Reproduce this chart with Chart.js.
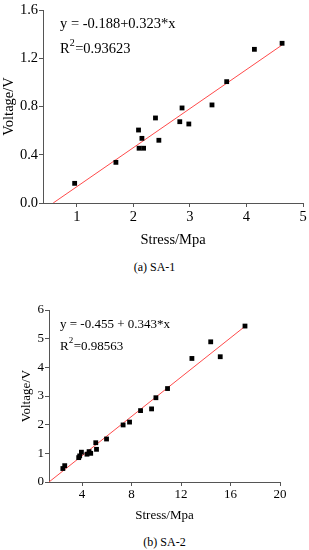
<!DOCTYPE html>
<html>
<head>
<meta charset="utf-8">
<script src="https://cdn.jsdelivr.net/npm/chart.js@4.4.1/dist/chart.umd.min.js"></script>
<style>
  html, body { margin:0; padding:0; background:#fff; width:309px; height:550px; overflow:hidden; }
  .box { position:absolute; left:0; width:309px; }
  .cap { position:absolute; width:309px; font-family:'Liberation Serif', serif; font-size:12px; color:#000; text-align:center; }
</style>
</head>
<body>
<div class="box" style="top:0;height:250px;"><canvas id="c1" width="309" height="250"></canvas></div>
<div class="cap" style="top:260px;left:0;width:309px;">(a) SA-1</div>
<div class="box" style="top:270px;height:255px;"><canvas id="c2" width="309" height="255"></canvas></div>
<div class="cap" style="top:535px;left:10px;width:309px;">(b) SA-2</div>
<script>
// ---- Data: chart (a) SA-1 ----
const stressA = [0.96, 1.69, 2.09, 2.10, 2.15, 2.18, 2.39, 2.45, 2.82, 2.86, 2.98, 3.39, 3.65, 4.14, 4.63];
const voltA   = [0.163, 0.337, 0.605, 0.454, 0.536, 0.454, 0.705, 0.52, 0.674, 0.788, 0.655, 0.813, 1.006, 1.274, 1.324];
const fitXA = [0.58, 4.63];
const fitYA = [0.0, 1.31];
const xTicksA = [1, 2, 3, 4, 5];
const yTicksA = [0.0, 0.4, 0.8, 1.2, 1.6];
const eqA = 'y = -0.188+0.323*x';
const r2A = '=0.93623';

// ---- Data: chart (b) SA-2 ----
const stressB = [2.45, 2.6, 3.73, 3.81, 3.95, 4.4, 4.57, 4.70, 5.11, 5.17, 5.98, 7.32, 7.84, 8.73, 9.62, 9.97, 10.91, 12.88, 14.4, 15.17, 17.17];
const voltB   = [0.47, 0.57, 0.85, 0.91, 1.04, 0.97, 1.06, 1.00, 1.37, 1.14, 1.50, 1.99, 2.09, 2.49, 2.55, 2.94, 3.26, 4.31, 4.89, 4.37, 5.44];
const fitXB = [1.33, 17.2];
const fitYB = [0.0, 5.44];
const xTicksB = [4, 8, 12, 16, 20];
const yTicksB = [0, 1, 2, 3, 4, 5, 6];
const eqB = 'y = -0.455 + 0.343*x';
const r2B = '=0.98563';

const FONT = "'Liberation Serif', 'Times New Roman', serif";
const AXIS = '#555';

function pts(xs, ys) { return xs.map((x, i) => ({x, y: ys[i]})); }

function eqPlugin(eq, r2, dx, dy1, dy2, fs) {
  return {
    id: 'eq',
    afterDraw(chart) {
      const ctx = chart.ctx, a = chart.chartArea;
      ctx.save();
      ctx.fillStyle = '#000';
      ctx.textBaseline = 'middle';
      ctx.textAlign = 'left';
      ctx.font = fs + 'px ' + FONT;
      const x0 = a.left + dx;
      ctx.fillText(eq, x0, a.top + dy1);
      ctx.fillText('R', x0, a.top + dy2);
      const wR = ctx.measureText('R').width;
      ctx.font = Math.round(fs * 0.72) + 'px ' + FONT;
      ctx.fillText('2', x0 + wR, a.top + dy2 - 6);
      const w2 = ctx.measureText('2').width;
      ctx.font = fs + 'px ' + FONT;
      ctx.fillText(r2, x0 + wR + w2 + 0.5, a.top + dy2);
      ctx.restore();
    }
  };
}

function makeChart(id, cfg) {
  const axisCommon = (ticks, fmt, extra) => Object.assign({
    type: 'linear',
    border: { display: true, color: AXIS, width: 1 },
    grid: { display: true, drawOnChartArea: false, drawTicks: true, tickLength: 4, color: AXIS, tickColor: AXIS },
    ticks: { color: '#000', font: { family: FONT, size: cfg.fs }, padding: 1, maxRotation: 0, autoSkip: false, callback: fmt },
    afterBuildTicks: s => { s.ticks = ticks.map(v => ({ value: v })); }
  }, extra);
  return new Chart(document.getElementById(id), {
    type: 'scatter',
    data: {
      datasets: [
        { data: pts(cfg.xs, cfg.ys), pointStyle: 'rect', pointRadius: 3.4, backgroundColor: '#000', borderColor: '#000', borderWidth: 0, showLine: false, order: 1 },
        { data: pts(cfg.fx, cfg.fy), showLine: true, borderColor: '#ff4a4a', borderWidth: 1, pointRadius: 0, fill: false, order: 2 }
      ]
    },
    options: {
      responsive: false, animation: false,
      layout: { padding: cfg.pad },
      plugins: { legend: { display: false }, tooltip: { enabled: false } },
      scales: {
        x: axisCommon(cfg.xTicks, v => String(v), {
          min: cfg.xmin, max: cfg.xmax,
          title: { display: true, text: 'Stress/Mpa', color: '#000', font: { family: FONT, size: cfg.fs }, padding: { top: 0, bottom: cfg.xTitlePad } },
          afterFit: s => { s.height = cfg.xH; }
        }),
        y: axisCommon(cfg.yTicks, cfg.yFmt, {
          min: cfg.ymin, max: cfg.ymax,
          title: { display: true, text: 'Voltage/V', color: '#000', font: { family: FONT, size: cfg.fs }, padding: 0 },
          afterFit: s => { s.width = cfg.yW; }
        })
      }
    },
    plugins: [eqPlugin(cfg.eq, cfg.r2, cfg.dx, cfg.dy1, cfg.dy2, cfg.eqFs)]
  });
}

makeChart('c1', {
  xs: stressA, ys: voltA, fx: fitXA, fy: fitYA,
  xTicks: xTicksA, yTicks: yTicksA, yFmt: v => v.toFixed(1),
  xmin: 0.4, xmax: 5, ymin: 0, ymax: 1.6,
  pad: { top: 10, right: 6, left: 0, bottom: 0 },
  xH: 47, yW: 43, xTitlePad: 1, fs: 14.5, eqFs: 14.5,
  eq: eqA, r2: r2A, dx: 17, dy1: 14, dy2: 39
});

makeChart('c2', {
  xs: stressB, ys: voltB, fx: fitXB, fy: fitYB,
  xTicks: xTicksB, yTicks: yTicksB, yFmt: v => String(v),
  xmin: 1.33, xmax: 20, ymin: 0, ymax: 6,
  pad: { top: 40, right: 29, left: 19, bottom: 0 },
  xH: 43, yW: 30, xTitlePad: 2, fs: 13, eqFs: 13,
  eq: eqB, r2: r2B, dx: 11, dy1: 15, dy2: 37
});
</script>
</body>
</html>
